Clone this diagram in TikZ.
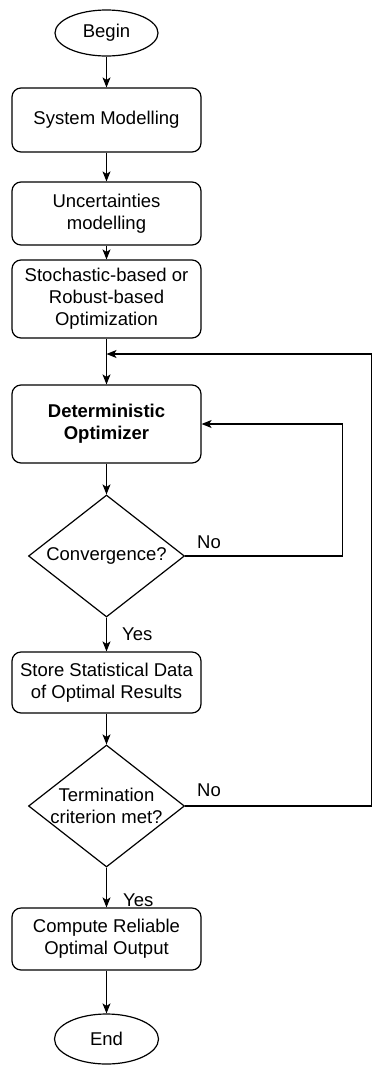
\documentclass[tikz,border=0pt]{standalone}
\usepackage{fontspec}
\setmainfont{Liberation Sans}
\usetikzlibrary{shapes.geometric,arrows.meta}
\begin{document}
\begin{tikzpicture}[x=1pt,y=-1pt,
  every node/.style={font=\fontsize{18.5}{22}\selectfont},
  proc/.style={draw, rounded corners=9pt, minimum width=189pt, align=center,
    inner sep=0pt, line width=1.2pt},
  term/.style={draw, ellipse, line width=1.2pt, inner sep=0pt},
  decision/.style={draw, diamond, minimum width=156pt, minimum height=122pt,
    inner sep=0pt, line width=1.2pt},
  flow/.style={line width=1.2pt, -{Stealth[length=10pt,width=8pt,inset=2.5pt]}},
  lbl/.style={anchor=west, inner sep=0pt}]
\useasboundingbox (0,0) rectangle (372,1066);

% process steps
\node[term, minimum width=103pt, minimum height=46pt] (begin) at (106.5,33) {Begin};
\node[proc, minimum height=64pt] (sys) at (106.5,120) {System Modelling};
\node[proc, minimum height=63pt] (unc) at (106.5,213.5) {Uncertainties\\modelling};
\node[proc, minimum height=78pt] (sto) at (106.5,299) {Stochastic-based or\\Robust-based\\Optimization};
\node[proc, minimum height=78pt, font=\fontsize{18.5}{22}\selectfont\bfseries] (det) at (106.5,424) {Deterministic\\Optimizer};
\node[decision] (conv) at (106.5,556) {};
\node (convt) at (conv) {Convergence?};
\node[proc, minimum height=61pt] (store) at (106.5,682.5) {Store Statistical Data\\of Optimal Results};
\node[decision] (termd) at (106.5,806) {};
\node[align=center] (termt) at (termd) {Termination\\criterion met?};
\node[proc, minimum height=62pt] (comp) at (106.5,939) {Compute Reliable\\Optimal Output};
\node[term, minimum width=104pt, minimum height=50pt] (end) at (106.5,1039) {End};

% branch labels
\node[lbl] (no1) at (197,542) {No};
\node[lbl] (yes1) at (122,634) {Yes};
\node[lbl] (no2) at (197,790) {No};
\node[lbl] (yes2) at (123,900) {Yes};

% main flow
\coordinate (join) at (106.5,354);
\draw[flow] (begin) -- (sys);
\draw[flow] (sys) -- (unc);
\draw[flow] (unc) -- (sto);
\draw[flow] (sto) -- (det);
\draw[flow] (det) -- (conv);
\draw[flow] (conv) -- (store);
\draw[flow] (store) -- (termd);
\draw[flow] (termd) -- (comp);
\draw[flow] (comp) -- (end);

% feedback loops
\draw[flow] (conv.east) -- ++(157,0) |- (det.east);
\draw[flow] (termd.east) -- ++(186,0) |- (join);
\end{tikzpicture}
\end{document}
